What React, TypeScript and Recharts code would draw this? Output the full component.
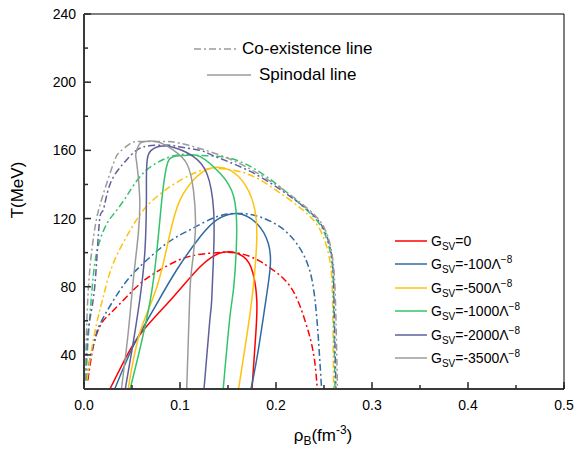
import React from "react";
import { LineChart, Line, XAxis, YAxis } from "recharts";

// axis ticks
const X_MAJOR = [0, 0.1, 0.2, 0.3, 0.4, 0.5];
const X_MINOR = [0.05, 0.15, 0.25, 0.35, 0.45];
const Y_MAJOR = [40, 80, 120, 160, 200, 240];
const Y_MINOR = [60, 100, 140, 180, 220];

// [rho_B, T]
const coexG0 = [[0.004, 25], [0.008, 40], [0.013, 52], [0.02, 60], [0.031, 66.3], [0.055, 80], [0.076, 88.8], [0.103, 96.6], [0.128, 99.5], [0.145, 100.2], [0.1625, 99.5], [0.18, 96], [0.194, 91], [0.215, 80], [0.23, 60.5], [0.239, 41], [0.243, 20]];
const spinG0 = [[0.027, 20], [0.044, 38.9], [0.062, 54.6], [0.093, 74], [0.121, 91.7], [0.145, 100.2], [0.166, 97.6], [0.176, 87.9], [0.18, 72], [0.179, 52.8], [0.175, 20]];

const coexG100 = [[0.003, 25], [0.007, 40], [0.012, 50], [0.017, 58.5], [0.0375, 78], [0.058, 91.7], [0.086, 105.4], [0.11, 113.3], [0.138, 121], [0.1625, 123], [0.183, 121], [0.204, 115.2], [0.2215, 105.4], [0.235, 89.8], [0.241, 70.3], [0.244, 50.7], [0.2475, 20]];
const spinG100 = [[0.032, 20], [0.051, 44.8], [0.072, 66.3], [0.0965, 89.8], [0.121, 109.3], [0.138, 119.1], [0.159, 123], [0.18, 117.1], [0.192, 105.4], [0.194, 91.7], [0.189, 70.4], [0.181, 41], [0.174, 20]];

const coexG500 = [[0.003, 25], [0.007, 40], [0.013, 58], [0.02, 74], [0.0305, 93.7], [0.048, 113], [0.065, 127], [0.0896, 138.7], [0.114, 146.4], [0.135, 149.4], [0.169, 146.4], [0.2, 136.7], [0.228, 125], [0.246, 113.3], [0.256, 95.7], [0.259, 70.3], [0.26, 20]];
const spinG500 = [[0.046, 20], [0.058, 52.7], [0.076, 80], [0.0896, 111.3], [0.1, 130.8], [0.114, 142.6], [0.131, 149.4], [0.152, 148.4], [0.169, 138.7], [0.178, 125], [0.18, 109.3], [0.178, 89.8], [0.173, 64.4], [0.161, 20]];

const coexG1000 = [[0.002, 25], [0.0045, 50.7], [0.008, 76], [0.013, 99.6], [0.022, 115], [0.03, 122], [0.044, 132.8], [0.065, 148.4], [0.0965, 157.2], [0.12, 157], [0.147, 156], [0.175, 150], [0.204, 138.7], [0.232, 125], [0.249, 113.3], [0.258, 95.7], [0.26, 70.3], [0.2615, 20]];
const spinG1000 = [[0.048, 20], [0.058, 42.9], [0.069, 72], [0.076, 101.5], [0.081, 130.8], [0.086, 150.4], [0.093, 156.3], [0.107, 157.2], [0.121, 156.3], [0.142, 146.4], [0.156, 132.8], [0.159, 109.3], [0.156, 80], [0.152, 62.4], [0.145, 20]];

const coexG2000 = [[0.001, 25], [0.003, 45], [0.006, 60.5], [0.0115, 82], [0.016, 118], [0.02, 125], [0.027, 140], [0.041, 152.3], [0.055, 160.2], [0.07, 162.8], [0.0896, 163], [0.1, 162], [0.121, 160], [0.135, 156.8], [0.169, 148.8], [0.204, 137.2], [0.232, 125.5], [0.25, 113.6], [0.2585, 96], [0.2605, 70.3], [0.2625, 20]];
const spinG2000 = [[0.043, 20], [0.05, 42.9], [0.058, 72], [0.0635, 101.5], [0.065, 130.8], [0.065, 142.6], [0.066, 155], [0.07, 160], [0.076, 162], [0.086, 162.5], [0.1, 160.5], [0.114, 156.3], [0.128, 146.4], [0.135, 125], [0.135, 99.6], [0.133, 72], [0.131, 60], [0.125, 20]];

const coexG3500 = [[0.001, 25], [0.003, 60.5], [0.006, 89.8], [0.0115, 115], [0.0167, 128], [0.0236, 140.6], [0.032, 154.3], [0.0375, 159.2], [0.048, 164], [0.058, 165.2], [0.08, 165.2], [0.1, 164.2], [0.135, 158.5], [0.169, 150.3], [0.204, 138.3], [0.232, 126.3], [0.2505, 114.3], [0.259, 96.5], [0.262, 70.5], [0.264, 20]];
const spinG3500 = [[0.039, 20], [0.046, 52.7], [0.051, 82], [0.0566, 111.3], [0.058, 132.8], [0.055, 152.3], [0.054, 158], [0.057, 163], [0.062, 165], [0.076, 165], [0.093, 160.2], [0.107, 152.3], [0.114, 136.7], [0.116, 113.3], [0.112, 89.8], [0.11, 72], [0.107, 20]];

const LABELS = ["0", "-100", "-500", "-1000", "-2000", "-3500"];
const COLORS = ["#ff0000", "#2f6aa3", "#ffc20e", "#33c36a", "#5f5f9c", "#9b9b9b"];
const COEX = [coexG0, coexG100, coexG500, coexG1000, coexG2000, coexG3500];
const SPIN = [spinG0, spinG100, spinG500, spinG1000, spinG2000, spinG3500];

const toRows = (pts: number[][]) => pts.map(([x, T]) => ({ x, T }));

const DASHDOT = "7 3 2 3";
const FONT = "'Liberation Sans', Arial, sans-serif";
const TICK_COLOR = "#2a2a2a";
const MINOR_LEN = 4; // built-in inward tick; majors get extended
const EXTRA = 3;

const xTicks = [...X_MAJOR, ...X_MINOR].sort((a, b) => a - b);
const yTicks = [...Y_MAJOR, ...Y_MINOR].sort((a, b) => a - b);

// x, y given by recharts = inner end of the built-in tick line
function makeTick(side: "bottom" | "top" | "left" | "right", majors: number[], labelled: boolean) {
  return (props: any) => {
    const { x, y, payload } = props;
    const major = majors.includes(payload.value);
    let line = null;
    if (major) {
      const s = { stroke: TICK_COLOR, strokeWidth: 1.5 };
      if (side === "bottom") line = <line x1={x} x2={x} y1={y + 0.5} y2={y - EXTRA} {...s} />;
      else if (side === "top") line = <line x1={x} x2={x} y1={y - 0.5} y2={y + EXTRA} {...s} />;
      else if (side === "left") line = <line x1={x - 0.5} x2={x + EXTRA} y1={y} y2={y} {...s} />;
      else line = <line x1={x + 0.5} x2={x - EXTRA} y1={y} y2={y} {...s} />;
    }
    let text = null;
    if (labelled && major) {
      if (side === "bottom")
        text = (
          <text x={x} y={y + MINOR_LEN + 21} textAnchor="middle" fontSize={14} fill="#000" fontFamily={FONT}>
            {payload.value.toFixed(1)}
          </text>
        );
      else
        text = (
          <text x={x - MINOR_LEN - 8} y={y + 5} textAnchor="end" fontSize={14} fill="#000" fontFamily={FONT}>
            {payload.value}
          </text>
        );
    }
    return (
      <g>
        {line}
        {text}
      </g>
    );
  };
}

const sub: React.CSSProperties = { fontSize: 10, verticalAlign: "sub", lineHeight: 0 };
const sup: React.CSSProperties = { fontSize: 10, verticalAlign: "super", lineHeight: 0 };

const axisCommon = {
  type: "number" as const,
  interval: 0 as const,
  tickSize: -MINOR_LEN,
  tickMargin: 0,
  tickLine: { stroke: TICK_COLOR, strokeWidth: 1.5 },
};

export default function App() {
  return (
    <div style={{ position: "absolute", left: 0, top: 0, width: 577, height: 449, background: "#fff", fontFamily: FONT }}>
      <LineChart width={577} height={449} margin={{ top: 0, right: 0, bottom: 0, left: 0 }}>
        <XAxis
          {...axisCommon}
          dataKey="x"
          domain={[0, 0.5]}
          ticks={xTicks}
          height={60}
          tick={makeTick("bottom", X_MAJOR, true)}
          axisLine={{ stroke: "#3a3a3a", strokeWidth: 2 }}
          allowDataOverflow
        />
        <XAxis
          {...axisCommon}
          xAxisId="top"
          orientation="top"
          dataKey="x"
          domain={[0, 0.5]}
          ticks={xTicks}
          height={14}
          tick={makeTick("top", X_MAJOR, false)}
          axisLine={{ stroke: "#000", strokeWidth: 1 }}
        />
        <YAxis
          {...axisCommon}
          domain={[20, 240]}
          ticks={yTicks}
          width={84}
          tick={makeTick("left", Y_MAJOR, true)}
          axisLine={{ stroke: "#3a3a3a", strokeWidth: 2 }}
          allowDataOverflow
        />
        <YAxis
          {...axisCommon}
          yAxisId="right"
          orientation="right"
          domain={[20, 240]}
          ticks={yTicks}
          width={13}
          tick={makeTick("right", Y_MAJOR, false)}
          axisLine={{ stroke: "#000", strokeWidth: 1 }}
        />
        {COEX.map((pts, i) => (
          <Line
            key={"c" + i}
            data={toRows(pts)}
            dataKey="T"
            type="natural"
            stroke={COLORS[i]}
            strokeWidth={1.5}
            strokeDasharray={DASHDOT}
            dot={false}
            activeDot={false}
            isAnimationActive={false}
          />
        ))}
        {SPIN.map((pts, i) => (
          <Line
            key={"s" + i}
            data={toRows(pts)}
            dataKey="T"
            type="natural"
            stroke={COLORS[i]}
            strokeWidth={1.5}
            dot={false}
            activeDot={false}
            isAnimationActive={false}
          />
        ))}
      </LineChart>

      {/* axis titles */}
      <div
        style={{
          position: "absolute",
          left: 18,
          top: 190,
          transform: "translate(-50%, -50%) rotate(-90deg)",
          fontSize: 17,
          whiteSpace: "nowrap",
        }}
      >
        T(MeV)
      </div>
      <div
        style={{
          position: "absolute",
          left: 323,
          top: 436,
          transform: "translate(-50%, -50%)",
          fontSize: 17,
          whiteSpace: "nowrap",
        }}
      >
        ρ<span style={{ ...sub, fontSize: 12 }}>B</span>(fm<span style={{ ...sup, fontSize: 12 }}>-3</span>)
      </div>

      {/* line-style legend */}
      <div style={{ position: "absolute", left: 194, top: 39, fontSize: 17, display: "flex", alignItems: "center", whiteSpace: "nowrap" }}>
        <svg width={43} height={4} style={{ marginRight: 5 }}>
          <line x1={0} x2={43} y1={2} y2={2} stroke="#9b9b9b" strokeWidth={1.5} strokeDasharray={DASHDOT} />
        </svg>
        Co-existence line
      </div>
      <div style={{ position: "absolute", left: 207, top: 65, fontSize: 17, display: "flex", alignItems: "center", whiteSpace: "nowrap" }}>
        <svg width={44} height={4} style={{ marginRight: 8 }}>
          <line x1={0} x2={44} y1={2} y2={2} stroke="#9b9b9b" strokeWidth={1.5} />
        </svg>
        Spinodal line
      </div>

      {/* G_SV legend */}
      {LABELS.map((lab, i) => (
        <div
          key={lab}
          style={{
            position: "absolute",
            left: 395,
            top: 232 + i * 23.4,
            height: 18,
            fontSize: 14,
            display: "flex",
            alignItems: "center",
            whiteSpace: "nowrap",
          }}
        >
          <svg width={32} height={4} style={{ marginRight: 4 }}>
            <line x1={0} x2={32} y1={2} y2={2} stroke={COLORS[i]} strokeWidth={1.5} />
          </svg>
          <span>
            G<span style={sub}>SV</span>={lab}
            {lab !== "0" && (
              <>
                Λ<span style={sup}>−8</span>
              </>
            )}
          </span>
        </div>
      ))}
    </div>
  );
}
